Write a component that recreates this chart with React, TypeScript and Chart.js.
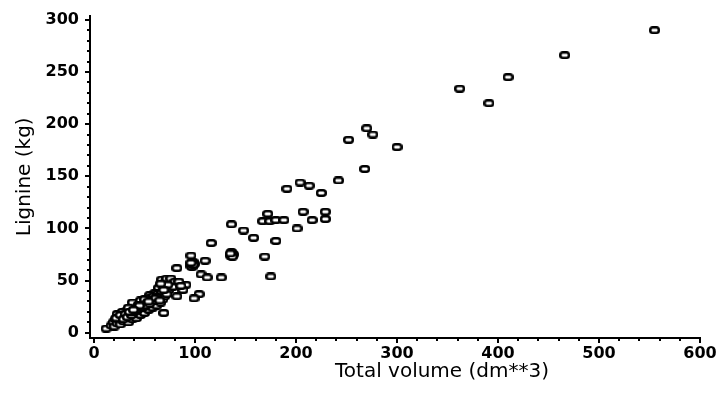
import React, { useEffect, useRef } from "react";
import { Chart, registerables } from "chart.js";

Chart.register(...registerables);

const xTickValues = [0, 100, 200, 300, 400, 500, 600];
const yTickValues = [0, 50, 100, 150, 200, 250, 300];
const xTitle = "Total volume (dm**3)";
const yTitle = "Lignine (kg)";

// Total volume (dm**3)
const volume = [
  555, 466, 410, 362, 391, 270, 276, 252, 300, 268, 242,
  191, 204, 213, 225, 172, 167, 174, 180, 188, 207, 216, 229, 229, 201,
  136, 148, 158, 180, 169, 175, 136, 137, 135, 138, 136, 137, 135,
  116, 96, 97, 98, 96, 99, 97, 98, 96, 110, 82, 106, 112, 126, 104, 99, 91,
  67, 70, 72, 76, 80, 84, 74, 78, 88, 69, 82, 64, 60, 55, 69, 73, 86, 66,
  12, 17, 19, 20, 21, 23, 24, 25, 26, 27, 28, 29, 30, 31, 32, 33, 34, 35, 36, 37, 38,
  39, 40, 41, 42, 43, 44, 45, 46, 47, 48, 49, 50, 51, 52, 53, 54, 55, 56, 57, 58,
  59, 60, 61, 62, 63, 64, 65, 66, 67, 68, 70, 72, 23, 28, 38, 46, 34, 44, 50, 58,
  22, 26, 31, 36, 41, 48, 53, 62,
  29, 33, 37, 40, 43, 47, 51, 55, 58, 61, 65, 69, 45, 35, 39, 54,
];
// Lignine (kg)
const lignine = [
  290, 266, 245, 234, 220, 196, 190, 185, 178, 157, 146,
  138, 144, 141, 134, 114, 107, 107, 108, 108, 116, 108, 116, 109, 100,
  104, 98, 91, 88, 73, 54, 75, 76, 74, 75, 77, 73, 76,
  86, 74, 66, 68, 64, 66, 63, 65, 67, 69, 62, 56, 53, 53, 37, 33, 46,
  51, 48, 52, 52, 49, 49, 41, 44, 41, 36, 35, 43, 38, 36, 19, 46, 45, 47,
  4, 7, 10, 6, 13, 9, 16, 12, 8, 14, 19, 11, 16, 13, 21, 18, 10, 15, 22, 19, 13,
  24, 17, 21, 14, 26, 19, 23, 17, 28, 21, 25, 19, 30, 24, 27, 22, 33, 26, 29, 24,
  35, 28, 31, 26, 37, 30, 33, 29, 39, 32, 35, 37, 18, 20, 29, 31, 24, 27, 32, 30,
  14, 17, 18, 17, 22, 24, 29, 34,
  13, 15, 17, 20, 22, 24, 26, 28, 31, 33, 31, 41, 26, 20, 22, 30,
];

function makeMarker(): HTMLCanvasElement {
  const c = document.createElement("canvas");
  c.width = 11;
  c.height = 8;
  const ctx = c.getContext("2d")!;
  ctx.fillStyle = "#ffffff";
  ctx.strokeStyle = "#000000";
  ctx.lineWidth = 2.5;
  ctx.beginPath();
  (ctx as any).roundRect(1.25, 1.25, 8.5, 5.5, 2.5);
  ctx.fill();
  ctx.stroke();
  return c;
}

export default function App() {
  const ref = useRef<HTMLCanvasElement | null>(null);

  useEffect(() => {
    if (!ref.current) return;
    const marker = makeMarker();
    const points = volume.map((v, i) => ({ x: v, y: lignine[i] }));

    const minorTicks = {
      id: "minorTicks",
      afterDraw(chart: any) {
        const ctx = chart.ctx;
        const xs = chart.scales.x;
        const ys = chart.scales.y;
        ctx.save();
        ctx.strokeStyle = "#000";
        ctx.lineWidth = 2;
        ctx.beginPath();
        for (let v = 20; v < 600; v += 20) {
          if (v % 100 === 0) continue;
          const px = Math.round(xs.getPixelForValue(v));
          ctx.moveTo(px, xs.top);
          ctx.lineTo(px, xs.top + 3);
        }
        for (let v = 10; v < 300; v += 10) {
          if (v % 50 === 0) continue;
          const py = Math.round(ys.getPixelForValue(v));
          ctx.moveTo(ys.right, py);
          ctx.lineTo(ys.right - 3, py);
        }
        ctx.stroke();
        ctx.fillStyle = "#000";
        ctx.font = "20px 'DejaVu Sans'";
        ctx.textAlign = "center";
        ctx.textBaseline = "middle";
        ctx.fillText(xTitle, 442, 372);
        ctx.restore();
      },
    };

    const chart = new Chart(ref.current, {
      type: "scatter",
      data: {
        datasets: [
          {
            data: points,
            pointStyle: marker as any,
            pointRadius: 4,
            borderColor: "#000",
            backgroundColor: "#fff",
          },
        ],
      },
      options: {
        animation: false,
        responsive: false,
        maintainAspectRatio: false,
        layout: { padding: { top: 15, right: 19, left: 0, bottom: 0 } },
        plugins: { legend: { display: false }, tooltip: { enabled: false } },
        scales: {
          x: {
            type: "linear",
            min: -4,
            max: 600,
            afterBuildTicks: (s: any) => {
              s.ticks = xTickValues.map((v) => ({ value: v }));
            },
            afterFit: (s: any) => {
              s.height = 59;
            },
            border: { display: true, color: "#000", width: 2 },
            grid: {
              display: true,
              drawOnChartArea: false,
              drawTicks: true,
              tickLength: 5,
              color: "#000",
              lineWidth: 2,
            },
            ticks: {
              color: "#000",
              padding: 1,
              maxRotation: 0,
              font: { family: "'DejaVu Sans'", size: 16, weight: "bold" },
            },
            title: { display: false },
          },
          y: {
            type: "linear",
            min: -5,
            max: 304,
            afterBuildTicks: (s: any) => {
              s.ticks = yTickValues.map((v) => ({ value: v }));
            },
            afterFit: (s: any) => {
              s.width = 90;
            },
            border: { display: true, color: "#000", width: 2 },
            grid: {
              display: true,
              drawOnChartArea: false,
              drawTicks: true,
              tickLength: 5,
              color: "#000",
              lineWidth: 2,
            },
            ticks: {
              color: "#000",
              padding: 6,
              font: { family: "'DejaVu Sans'", size: 16, weight: "bold" },
            },
            title: {
              display: true,
              text: yTitle,
              color: "#000",
              padding: { top: 13, bottom: 0 },
              font: { family: "'DejaVu Sans'", size: 20 },
            },
          },
        },
      },
      plugins: [minorTicks],
    });
    return () => chart.destroy();
  }, []);

  return (
    <div style={{ position: "fixed", left: 0, top: 0, width: 719, height: 397, background: "#fff" }}>
      <canvas ref={ref} width={719} height={397} style={{ width: 719, height: 397, display: "block" }} />
    </div>
  );
}
